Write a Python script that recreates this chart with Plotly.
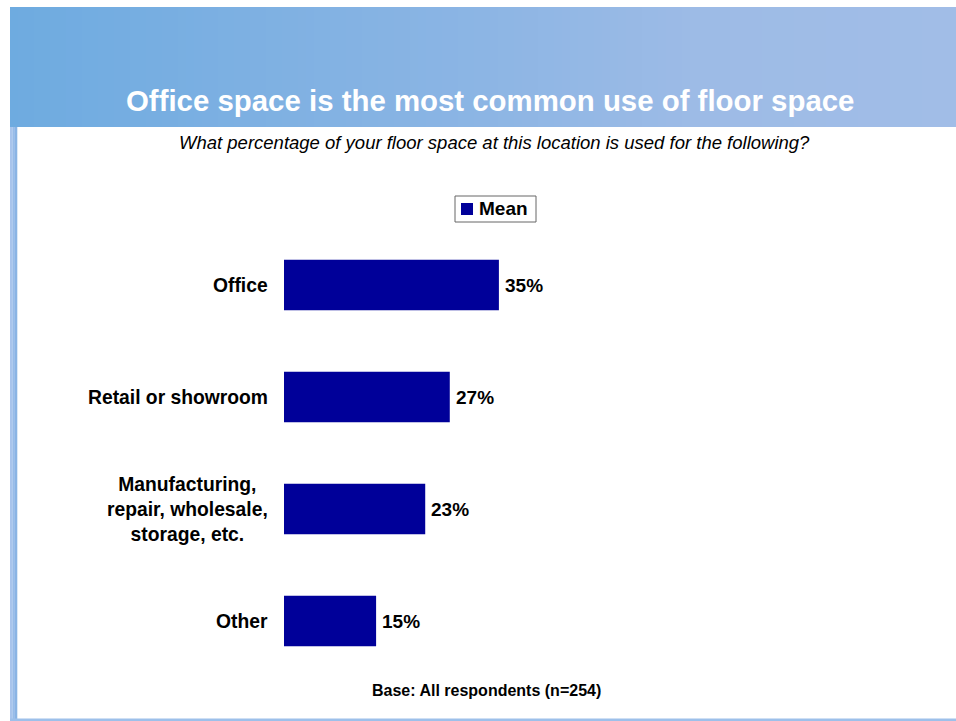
import plotly.graph_objects as go

# ---- data ----
categories = ["Office", "Retail or showroom",
              "Manufacturing,<br>repair, wholesale,<br>storage, etc.", "Other"]
mean_pct = [35, 27, 23, 15]
series_name = "Mean"

title_text = "Office space is the most common use of floor space"
subtitle_text = "What percentage of your floor space at this location is used for the following?"
base_text = "Base: All respondents (n=254)"

# ---- page geometry (pixels) ----
W, H = 956, 721
L, R, T, B = 284, 58, 229, 44
PW, PH = W - L - R, H - T - B
FONT = "Liberation Sans, Arial, sans-serif"
BAR = "#000099"


def px_x(x):
    return (x - L) / PW


def px_y(y):
    return (H - B - y) / PH


def lerp(c1, c2, t):
    return tuple(round(a + (b - a) * t) for a, b in zip(c1, c2))


def header_color(x):
    stops = [(10, (110, 171, 224)), (480, (140, 181, 228)),
             (700, (157, 187, 230)), (956, (161, 189, 231))]
    for (x0, c0), (x1, c1) in zip(stops, stops[1:]):
        if x <= x1:
            return "rgb(%d,%d,%d)" % lerp(c0, c1, (x - x0) / (x1 - x0))
    return "rgb(%d,%d,%d)" % stops[-1][1]


fig = go.Figure()
fig.add_trace(go.Bar(
    y=categories, x=mean_pct, orientation="h",
    name=series_name,
    marker=dict(color=BAR, line=dict(width=0)),
    width=0.45,
    showlegend=False,
))

shapes = []
# header band with horizontal gradient
step = 8
x = 10
while x < W:
    x2 = min(x + step, W)
    shapes.append(dict(type="rect", xref="paper", yref="paper",
                       x0=px_x(x), x1=px_x(x2 + 0.5), y0=px_y(127), y1=px_y(7),
                       fillcolor=header_color(x + step / 2), line=dict(width=0),
                       layer="above"))
    x = x2
# left strip
strip_cols = ["rgb(168,196,236)", "rgb(152,188,233)", "rgb(138,180,228)"]
for i, c in enumerate(strip_cols):
    xa = 10 + i * 2.4
    shapes.append(dict(type="rect", xref="paper", yref="paper",
                       x0=px_x(xa), x1=px_x(xa + 2.5), y0=px_y(720), y1=px_y(127),
                       fillcolor=c, line=dict(width=0), layer="above"))
# bottom rule
shapes.append(dict(type="rect", xref="paper", yref="paper",
                   x0=px_x(10), x1=px_x(W), y0=px_y(721), y1=px_y(718.5),
                   fillcolor="rgb(157,192,234)", line=dict(width=0), layer="above"))
# legend key: frame and swatch
shapes.append(dict(type="rect", xref="paper", yref="paper",
                   x0=px_x(455), x1=px_x(536), y0=px_y(222), y1=px_y(196),
                   fillcolor="white", line=dict(color="#666666", width=1),
                   layer="above"))
shapes.append(dict(type="rect", xref="paper", yref="paper",
                   x0=px_x(461), x1=px_x(473), y0=px_y(215), y1=px_y(203),
                   fillcolor=BAR, line=dict(width=0), layer="above"))

annotations = [
    dict(text="<b>%s</b>" % title_text, xref="paper", yref="paper",
         x=px_x(490), y=px_y(100), xanchor="center", yanchor="middle",
         showarrow=False, font=dict(family=FONT, size=29.4, color="white")),
    dict(text="<i>%s</i>" % subtitle_text, xref="paper", yref="paper",
         x=px_x(494), y=px_y(142), xanchor="center", yanchor="middle",
         showarrow=False, font=dict(family=FONT, size=18.5, color="black")),
    dict(text="<b>%s</b>" % base_text, xref="paper", yref="paper",
         x=px_x(486), y=px_y(690), xanchor="center", yanchor="middle",
         showarrow=False, font=dict(family=FONT, size=16, color="black")),
    dict(text="<b>%s</b>" % series_name, xref="paper", yref="paper",
         x=px_x(477), y=px_y(209), xanchor="left", yanchor="middle",
         showarrow=False, font=dict(family=FONT, size=19, color="black")),
]
# category labels, centred line by line, right edge near the axis
for cat in categories:
    annotations.append(dict(
        text="<b>%s</b>" % cat, x=0, y=cat, xref="x", yref="y",
        xanchor="right", yanchor="middle", xshift=-14, align="center",
        showarrow=False, font=dict(family=FONT, size=19.3, color="black")))
# value labels at the end of each bar
for cat, v in zip(categories, mean_pct):
    annotations.append(dict(
        text="<b>%d%%</b>" % v, x=v, y=cat, xref="x", yref="y",
        xanchor="left", yanchor="middle", xshift=4,
        showarrow=False, font=dict(family=FONT, size=19, color="black")))

fig.update_layout(
    width=W, height=H,
    margin=dict(l=L, r=R, t=T, b=B, pad=0),
    paper_bgcolor="white", plot_bgcolor="white",
    font=dict(family=FONT, color="black"),
    bargap=0.55,
    xaxis=dict(range=[0, 100], visible=False, fixedrange=True),
    yaxis=dict(range=[3.5, -0.5], showticklabels=False, showgrid=False,
               zeroline=False, showline=False, ticks="", fixedrange=True),
    shapes=shapes,
    annotations=annotations,
    showlegend=False,
)

fig.write_html("out.html", config={"displayModeBar": False})
